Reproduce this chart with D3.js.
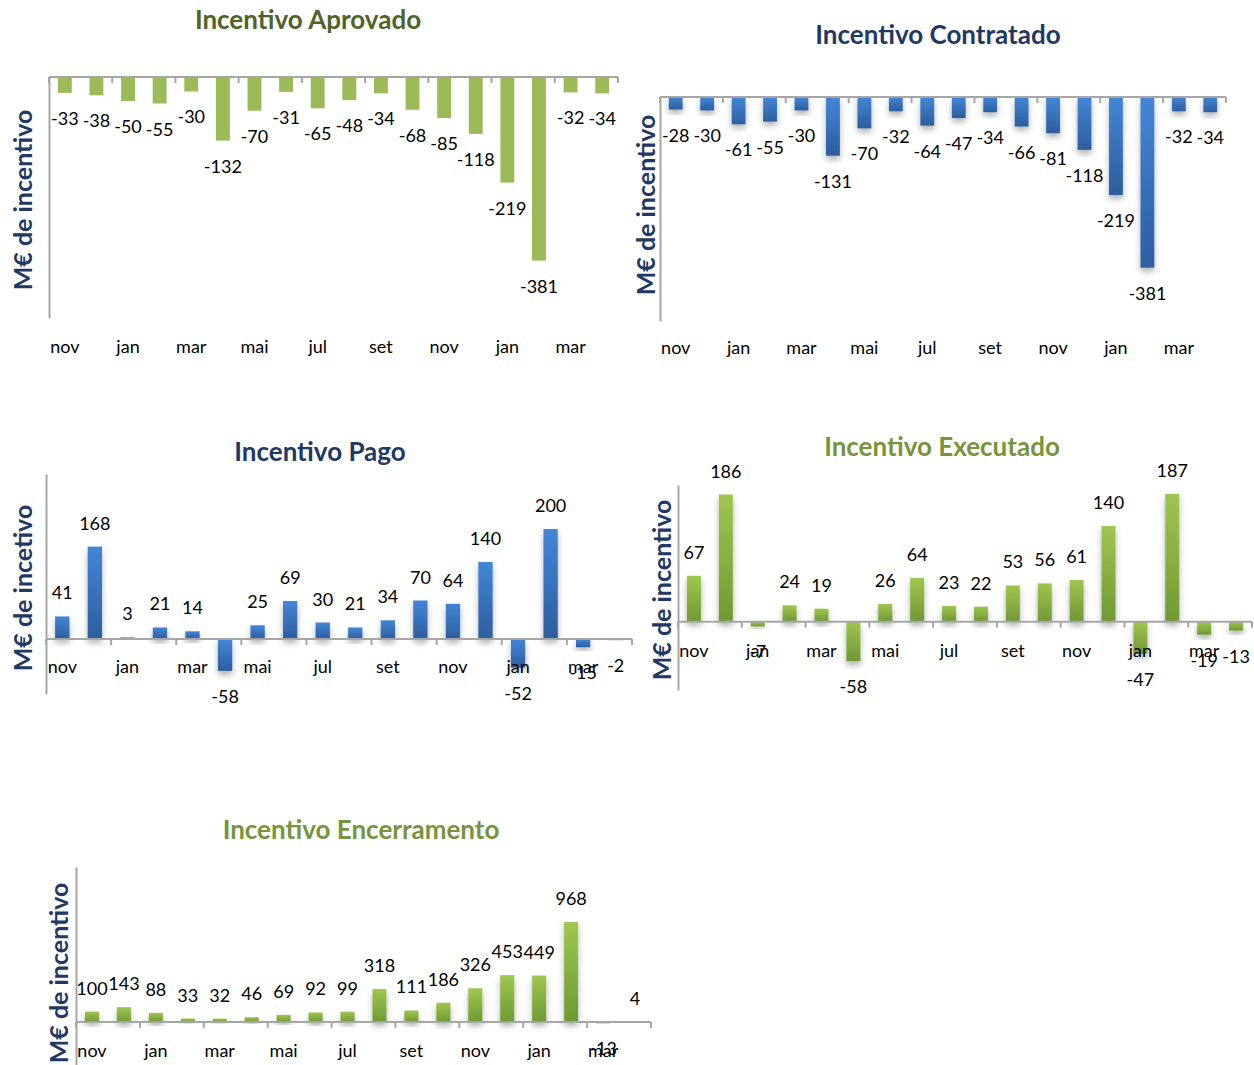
<!DOCTYPE html>
<html>
<head>
<meta charset="utf-8">
<script src="https://cdn.jsdelivr.net/npm/d3@7"></script>
<style>
    body { margin: 0; background: #fff; }
    svg { display: block; font-family: "Lato", "Open Sans", sans-serif; }
</style>
</head>
<body>
<div id="charts"></div>
<script>
// Meses (nov a abr, 18 meses)
const months = ["nov", "dez", "jan", "fev", "mar", "abr", "mai", "jun", "jul",
                "ago", "set", "out", "nov", "dez", "jan", "fev", "mar", "abr"];

// Valores por gráfico (M€)
const aprovado = [-33, -38, -50, -55, -30, -132, -70, -31, -65, -48, -34, -68, -85, -118, -219, -381, -32, -34];
const contratado = [-28, -30, -61, -55, -30, -131, -70, -32, -64, -47, -34, -66, -81, -118, -219, -381, -32, -34];
const pago = [41, 168, 3, 21, 14, -58, 25, 69, 30, 21, 34, 70, 64, 140, -52, 200, -15, -2];
const executado = [67, 186, -7, 24, 19, -58, 26, 64, 23, 22, 53, 56, 61, 140, -47, 187, -19, -13];
const encerramento = [100, 143, 88, 33, 32, 46, 69, 92, 99, 318, 111, 186, 326, 453, 449, 968, -13, 4];

// Domínios dos eixos verticais
const domAprovado = [-500, 0];
const domContratado = [-500, 0];
const domPago = [-100, 300];
const domExecutado = [-100, 200];
const domEncerramento = [-500, 1500];

const width = 1254;
const height = 1065;

const svg = d3.select("#charts")
    .append("svg")
    .attr("width", width)
    .attr("height", height);

// Gradientes e sombra
const defs = svg.append("defs");

function gradient(id, top, bottom) {
    const g = defs.append("linearGradient")
        .attr("id", id)
        .attr("x1", 0).attr("y1", 0)
        .attr("x2", 0).attr("y2", 1);
    g.append("stop").attr("offset", "0%").attr("stop-color", top);
    g.append("stop").attr("offset", "100%").attr("stop-color", bottom);
}
gradient("blue", "#4386d6", "#2c5e9f");
gradient("green", "#9fc64f", "#6f9834");

const shadow = defs.append("filter")
    .attr("id", "shadow")
    .attr("x", "-50%").attr("y", "-20%")
    .attr("width", "200%").attr("height", "160%");
shadow.append("feDropShadow")
    .attr("dx", 0).attr("dy", 4)
    .attr("stdDeviation", 3)
    .attr("flood-color", "#000")
    .attr("flood-opacity", 0.3);

const charts = [
    { title: "Incentivo Aprovado", titleColor: "#4f6228", tx: 308, ty: 19,
      yTitle: "M€ de incentivo", yx: 22, yy: 200,
      values: aprovado, domain: domAprovado, x0: 49, x1: 618, yRange: [318, 77],
      labelY: 346, fill: "#9bbb59", shadow: false },
    { title: "Incentivo Contratado", titleColor: "#1f3864", tx: 938, ty: 34,
      yTitle: "M€ de incentivo", yx: 645, yy: 205,
      values: contratado, domain: domContratado, x0: 660, x1: 1226, yRange: [321, 97],
      labelY: 347, fill: "url(#blue)", shadow: true },
    { title: "Incentivo Pago", titleColor: "#1f3864", tx: 320, ty: 451,
      yTitle: "M€ de incetivo", yx: 22, yy: 588,
      values: pago, domain: domPago, x0: 46, x1: 632, yRange: [694, 474],
      labelY: 666, fill: "url(#blue)", shadow: true },
    { title: "Incentivo Executado", titleColor: "#77933c", tx: 942, ty: 446,
      yTitle: "M€ de incentivo", yx: 661, yy: 590,
      values: executado, domain: domExecutado, x0: 678, x1: 1252, yRange: [690, 485],
      labelY: 650, fill: "url(#green)", shadow: true },
    { title: "Incentivo Encerramento", titleColor: "#77933c", tx: 361, ty: 829,
      yTitle: "M€ de incentivo", yx: 58, yy: 973,
      values: encerramento, domain: domEncerramento, x0: 76, x1: 651, yRange: [1073.6, 867],
      labelY: 1050, fill: "url(#green)", shadow: true }
];

charts.forEach(drawChart);

function drawChart(c) {
    const g = svg.append("g");
    const idx = d3.range(c.values.length);

    const x = d3.scaleBand()
        .domain(idx)
        .range([c.x0, c.x1]);

    const y = d3.scaleLinear()
        .domain(c.domain)
        .range(c.yRange);

    const barW = x.bandwidth() * 0.44;
    const zero = y(0);

    // Título
    g.append("text")
        .attr("x", c.tx)
        .attr("y", c.ty)
        .attr("text-anchor", "middle")
        .attr("dominant-baseline", "central")
        .attr("font-size", "26px")
        .attr("font-weight", "bold")
        .attr("fill", c.titleColor)
        .text(c.title);

    // Título do eixo vertical
    g.append("text")
        .attr("transform", `translate(${c.yx}, ${c.yy}) rotate(-90)`)
        .attr("text-anchor", "middle")
        .attr("dominant-baseline", "central")
        .attr("font-size", "25px")
        .attr("font-weight", "bold")
        .attr("fill", "#1f3864")
        .text(c.yTitle);

    // Barras
    g.append("g")
        .selectAll("rect")
        .data(c.values)
        .enter().append("rect")
        .attr("x", (d, i) => x(i) + (x.bandwidth() - barW) / 2)
        .attr("y", d => Math.min(y(d), zero))
        .attr("width", barW)
        .attr("height", d => Math.abs(y(d) - zero))
        .attr("fill", c.fill)
        .attr("filter", c.shadow ? "url(#shadow)" : null);

    // Eixo vertical (só a linha)
    g.append("g")
        .attr("transform", `translate(${c.x0},0)`)
        .call(d3.axisLeft(y).tickValues([]).tickSizeOuter(0))
        .call(a => a.select(".domain").attr("stroke", "#a6a6a6").attr("stroke-width", 2));

    // Linha do zero com marcas a cada dois meses
    g.append("line")
        .attr("x1", c.x0).attr("x2", c.x1)
        .attr("y1", zero).attr("y2", zero)
        .attr("stroke", "#a6a6a6")
        .attr("stroke-width", 2);

    g.append("g")
        .selectAll("line")
        .data(d3.range(0, c.values.length + 1, 2))
        .enter().append("line")
        .attr("x1", i => c.x0 + i * x.step())
        .attr("x2", i => c.x0 + i * x.step())
        .attr("y1", zero)
        .attr("y2", zero + 6)
        .attr("stroke", "#a6a6a6")
        .attr("stroke-width", 2);

    // Rótulos dos meses
    g.append("g")
        .attr("transform", `translate(0, ${c.labelY})`)
        .call(d3.axisBottom(x)
            .tickValues(idx.filter(i => i % 2 === 0))
            .tickFormat(i => months[i])
            .tickSize(0)
            .tickPadding(0))
        .call(a => a.select(".domain").remove())
        .call(a => a.selectAll("text")
            .attr("dy", null)
            .attr("dominant-baseline", "central")
            .attr("font-family", "Lato, sans-serif")
            .attr("font-size", "18px")
            .attr("fill", "#000"));

    // Rótulos dos valores
    g.append("g")
        .selectAll("text")
        .data(c.values)
        .enter().append("text")
        .attr("x", (d, i) => x(i) + x.bandwidth() / 2)
        .attr("y", d => d >= 0 ? y(d) - 24 : y(d) + 25)
        .attr("text-anchor", "middle")
        .attr("dominant-baseline", "central")
        .attr("font-size", "18px")
        .attr("fill", "#000")
        .text(d => d);
}
</script>
</body>
</html>
